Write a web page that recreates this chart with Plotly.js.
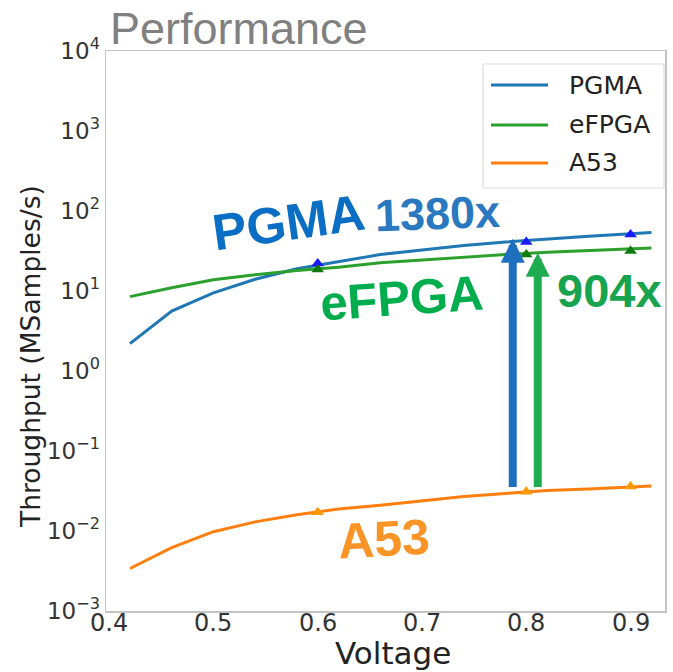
<!DOCTYPE html>
<html>
<head>
<meta charset="utf-8">
<script src="https://cdn.plot.ly/plotly-3.0.1.min.js"></script>
<style>html,body{margin:0;padding:0;background:#fff}#chart{width:673px;height:672px}</style>
</head>
<body>
<div id="chart"></div>
<script>
// ---- data ----
const voltage = [0.42, 0.46, 0.50, 0.54, 0.58, 0.62, 0.66, 0.70, 0.74, 0.78, 0.82, 0.86, 0.90, 0.92];
const pgma    = [2.2, 5.6, 9.5, 14, 19, 23.5, 28.5, 32.5, 37, 41, 45, 48.5, 52, 54];
const efpga   = [8.5, 11, 13.8, 16, 18, 19.8, 22.5, 24.5, 26.5, 28.5, 30.5, 32, 33.5, 34.5];
const a53     = [0.0034, 0.0062, 0.0098, 0.013, 0.016, 0.0188, 0.021, 0.0238, 0.027, 0.0295, 0.032, 0.0335, 0.0355, 0.0365];

const markVoltage = [0.6, 0.8, 0.9];
const pgmaMark  = [22, 41, 51];
const efpgaMark = [18.6, 28.5, 31.6];
const a53Mark   = [0.0172, 0.031, 0.036];

const seriesNames = ['PGMA', 'eFPGA', 'A53'];
const lineColors  = ['#1f77b4', '#2ca02c', '#ff7f0e'];
const markColors  = ['#1a1aff', '#0f7a0f', '#ff9900'];

const yTickVals  = [1e-3, 1e-2, 1e-1, 1e0, 1e1, 1e2, 1e3, 1e4];
const yTickText  = ['10<sup>−3</sup>','10<sup>−2</sup>','10<sup>−1</sup>','10<sup>0</sup>','10<sup>1</sup>','10<sup>2</sup>','10<sup>3</sup>','10<sup>4</sup>'];
const xTickVals  = [0.4, 0.5, 0.6, 0.7, 0.8, 0.9];
const xTickText  = ['0.4', '0.5', '0.6', '0.7', '0.8', '0.9'];

// arrows (speed-up annotations)
const arrowX    = [0.787, 0.811];
const arrowFrom = [0.034, 0.034];
const arrowTo   = [45, 30];
const arrowColors = ['#1f6fbf', '#1fab4f'];

const lineData = [pgma, efpga, a53];
const markData = [pgmaMark, efpgaMark, a53Mark];

const traces = [];
for (let i = 0; i < 3; i++) {
  traces.push({
    x: voltage, y: lineData[i], type: 'scatter', mode: 'lines', name: seriesNames[i],
    line: {color: lineColors[i], width: 3}, showlegend: false
  });
  traces.push({
    x: markVoltage, y: markData[i], type: 'scatter', mode: 'markers',
    marker: {symbol: 'triangle-up', size: 11, color: markColors[i]}, showlegend: false
  });
}

const annotations = [];
const shapes = [];
// arrows
for (let i = 0; i < arrowX.length; i++) {
  annotations.push({
    x: arrowX[i], y: Math.log10(arrowTo[i]), ax: arrowX[i], ay: Math.log10(arrowFrom[i]),
    xref: 'x', yref: 'y', axref: 'x', ayref: 'y', text: '', showarrow: true,
    arrowhead: 2, arrowsize: 0.6, arrowwidth: 8, arrowcolor: arrowColors[i], standoff: 0
  });
}
// text labels
const bold = 'Liberation Sans, Arial, sans-serif';
const L = 106, R = 665, T = 51, B = 611;
const labels = [
  {text: '<b>PGMA</b>', px: 288, py: 222, size: 51, color: '#0a6ec4', angle: -8},
  {text: '<b>1380x</b>', px: 437, py: 214, size: 45, color: '#2a78c0', angle: -2},
  {text: '<b>eFPGA</b>', px: 401, py: 298, size: 49, color: '#00ad4c', angle: -4},
  {text: '<b>904x</b>', px: 609, py: 290, size: 47, color: '#18a34e', angle: 0},
  {text: '<b>A53</b>', px: 384, py: 539, size: 50, color: '#fb9427', angle: -3}
];
labels.forEach(l => annotations.push({
  text: l.text, xref: 'paper', yref: 'paper',
  x: (l.px - L) / (R - L), y: (B - l.py) / (B - T), xanchor: 'center', yanchor: 'middle',
  showarrow: false, textangle: l.angle, font: {family: bold, size: l.size, color: l.color}
}));

// x tick labels (placed close to the axis like matplotlib)
xTickVals.forEach((v, i) => annotations.push({
  text: xTickText[i], xref: 'x', yref: 'paper', x: v, y: (B - 623) / (B - T),
  xanchor: 'center', yanchor: 'middle', showarrow: false,
  font: {family: 'DejaVu Sans', size: 24, color: '#333'}
}));

// axis titles
annotations.push({text: 'Voltage', xref: 'paper', yref: 'paper',
  x: (393 - L) / (R - L), y: (B - 653) / (B - T), xanchor: 'center', yanchor: 'middle',
  showarrow: false, font: {family: 'DejaVu Sans', size: 31, color: '#222'}});
annotations.push({text: 'Throughput (MSamples/s)', xref: 'paper', yref: 'paper',
  x: (30 - L) / (R - L), y: (B - 357) / (B - T), xanchor: 'center', yanchor: 'middle',
  textangle: -90, showarrow: false, font: {family: 'DejaVu Sans', size: 26.5, color: '#222'}});

// legend (drawn by hand to match the matplotlib style)
const lgLeft = 483, lgTop = 64, lgRight = 664, lgBottom = 188;
shapes.push({type: 'rect', xref: 'paper', yref: 'paper',
  x0: (lgLeft - L) / (R - L), x1: (lgRight - L) / (R - L),
  y0: (B - lgBottom) / (B - T), y1: (B - lgTop) / (B - T),
  line: {color: '#dddddd', width: 1.2}, fillcolor: 'rgba(255,255,255,0.85)', layer: 'above'});
const rowY = [85, 125, 163];
for (let i = 0; i < 3; i++) {
  shapes.push({type: 'line', xref: 'paper', yref: 'paper',
    x0: (491 - L) / (R - L), x1: (548 - L) / (R - L),
    y0: (B - rowY[i]) / (B - T), y1: (B - rowY[i]) / (B - T),
    line: {color: lineColors[i], width: 3}, layer: 'above'});
  annotations.push({text: seriesNames[i], xref: 'paper', yref: 'paper',
    x: (567 - L) / (R - L), y: (B - rowY[i]) / (B - T), xanchor: 'left', yanchor: 'middle',
    showarrow: false, font: {family: 'DejaVu Sans', size: 25, color: '#222'}});
}

const layout = {
  width: 673, height: 672,
  margin: {l: L, r: 673 - R, t: T, b: 672 - B, pad: 0},
  paper_bgcolor: '#fff', plot_bgcolor: '#fff',
  showlegend: false,
  title: {text: 'Performance', xref: 'container', yref: 'container', x: 110 / 673, xanchor: 'left',
    y: 1 - 28 / 672, yanchor: 'middle',
    font: {family: 'Liberation Sans, Arial, sans-serif', size: 45, color: '#808080'}},
  xaxis: {
    range: [0.397, 0.933], tickvals: xTickVals, showticklabels: false,
    showgrid: false, zeroline: false, showline: true, mirror: true, linecolor: '#c4c4c4', linewidth: 1.5,
    ticks: ''
  },
  yaxis: {
    type: 'log', range: [-3, 4], tickvals: yTickVals, ticktext: yTickText,
    showgrid: false, zeroline: false, showline: true, mirror: true, linecolor: '#c4c4c4', linewidth: 1.5,
    ticks: '', tickfont: {family: 'DejaVu Sans', size: 23, color: '#333'}
  },
  annotations: annotations,
  shapes: shapes
};

Plotly.newPlot('chart', traces, layout, {displayModeBar: false, staticPlot: true});
</script>
</body>
</html>
